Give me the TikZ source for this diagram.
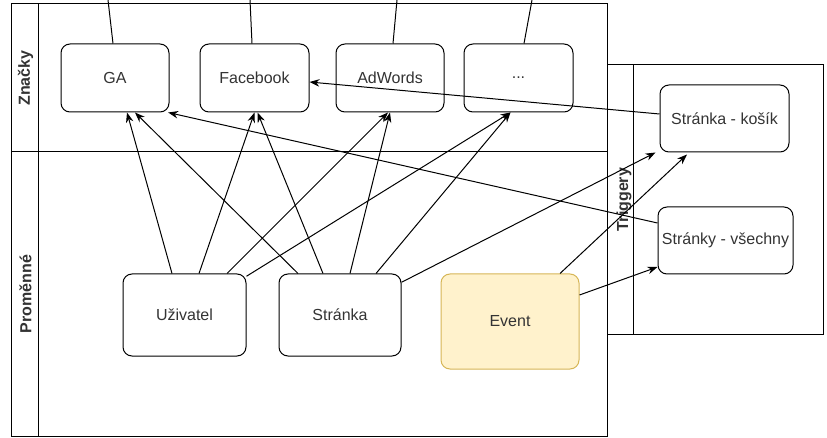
\documentclass[tikz,border=0pt]{standalone}
\usepackage{fontspec}
\setmainfont{Liberation Sans}
\usetikzlibrary{arrows.meta, positioning, calc}
\definecolor{txt}{HTML}{333333}
\definecolor{eventfill}{HTML}{FFF2CC}
\definecolor{eventline}{HTML}{D6B656}

\begin{document}
\begin{tikzpicture} [x = 1pt, y = -1pt, -> , >= {Stealth[length = 10pt, width = 7.5pt]}, line width = 1pt,
  every node/.style = {font = \fontsize{16}{19}\selectfont, text = txt},
  box/.style = {draw, rounded corners = 9pt, minimum width = 108pt, minimum height = 68pt, inner sep = 0pt},
  title/.style = {rotate = 90, font = \fontsize{16}{19}\selectfont\bfseries},
  lane/.style = {-}]

\useasboundingbox (0, 0) rectangle (827, 438);

\draw [lane] (11, 4) rectangle (607, 436);
\draw [lane] (38, 4) -- (38, 436);
\draw [lane] (11, 152) -- (607, 152);
\draw [lane] (607, 65) rectangle (823, 334);
\draw [lane] (633, 65) -- (633, 334);

\node [title] (znacky) at (25.5, 78) {Značky};
\node [title] (promenne) at (25.5, 294) {Proměnné};
\node [title] (triggery) at (624, 199.5) {Triggery};

\node [box] (ga) at (115, 78) {GA};
\node [box, minimum width = 109pt] (fb) at (254.5, 78) {Facebook};
\node [box] (adw) at (390, 78) {AdWords};
\node [box, minimum width = 109pt] (more) at (518.5, 78) {...};

\node [box, minimum width = 129pt, minimum height = 67pt] (kosik) at (724.5, 118.5) {Stránka - košík};
\node [box, minimum width = 135pt, minimum height = 67pt] (vsechny) at (725.5, 240.5) {Stránky - všechny};

\node [box, minimum width = 123pt, minimum height = 82pt] (uziv) at (184.5, 315) {Uživatel};
\node [box, minimum width = 122pt, minimum height = 82pt] (stranka) at (340, 315) {Stránka};
\node [box, minimum width = 138pt, minimum height = 95pt, fill = eventfill, draw = eventline] (event) at (510, 321.5) {Event};

\coordinate (gaup) at (108, 0);
\coordinate (fbup) at (250, 0);
\coordinate (adwup) at (397, 0);
\coordinate (moreup) at (532, 0);

\draw [-] ([xshift = -2pt] ga.north) -- (gaup);
\draw [-] ([xshift = -2.5pt] fb.north) -- (fbup);
\draw [-] ([xshift = 3pt] adw.north) -- (adwup);
\draw [-] ([xshift = 5.5pt] more.north) -- (moreup);

\path ([xshift = -12.5pt] uziv.north) edge ([xshift = 12pt] ga.south);
\path ([xshift = 14.5pt] uziv.north) edge (fb.south);
\path ([xshift = 42.5pt] uziv.north) edge ([xshift = -2pt] adw.south);
\path (uziv.32) edge ([xshift = -8pt] more.south);

\path ([xshift = -42pt] stranka.north) edge ([xshift = 20pt] ga.south);
\path ([xshift = -17pt] stranka.north) edge ([xshift = 3pt] fb.south);
\path ([xshift = 10pt] stranka.north) edge (adw.south);
\path ([xshift = 36pt] stranka.north) edge ([xshift = -8pt] more.south);
\path (stranka.28) edge ([xshift = -4pt] kosik.south west);

\path ([xshift = 50pt] event.north) edge ([xshift = -37.5pt, yshift = -2pt] kosik.south);
\path ([yshift = 26.5pt] event.east) edge ([yshift = -26.5pt] vsechny.west);

\path ([yshift = 4.5pt] kosik.west) edge ([yshift = -4pt] fb.east);
\path ([yshift = 17.5pt] vsechny.west) edge (ga.327);

\end{tikzpicture}
\end{document}
